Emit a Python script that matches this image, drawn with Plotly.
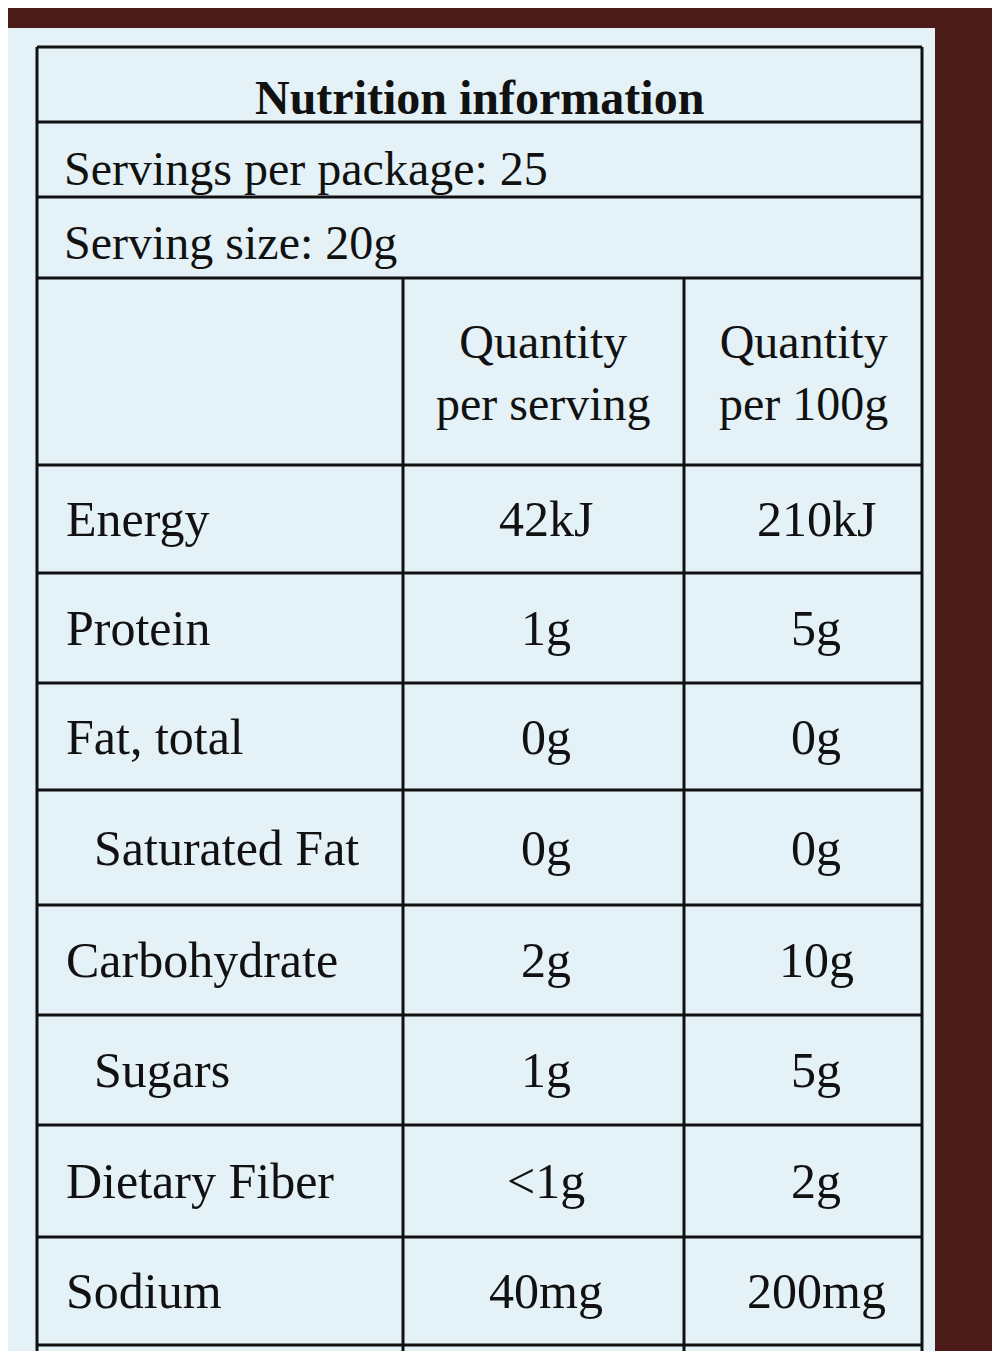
import plotly.graph_objects as go

title = "Nutrition information"
servings_line = "Servings per package: 25"
size_line = "Serving size: 20g"
col_heads = ["Quantity<br>per serving", "Quantity<br>per 100g"]
nutrients = ["Energy", "Protein", "Fat, total", "Saturated Fat", "Carbohydrate",
             "Sugars", "Dietary Fiber", "Sodium"]
indented = [False, False, False, True, False, True, False, False]
per_serving = ["42kJ", "1g", "0g", "0g", "2g", "1g", "<1g", "40mg"]
per_100g = ["210kJ", "5g", "0g", "0g", "10g", "5g", "2g", "200mg"]

# layout (pixels)
L, R = 37, 922
C1, C2 = 403, 684
row_y = [465, 573, 683, 790, 905, 1015, 1125, 1237, 1345]
ink = "#111111"
font = dict(family="Liberation Serif", color=ink)
brown = "#4b1c17"
bg = "#e4f1f6"

fig = go.Figure()
shapes = []
shapes.append(dict(type="rect", x0=-20, x1=1100, y0=-20, y1=1400, fillcolor=brown, line_width=0, layer="below"))
shapes.append(dict(type="rect", x0=8, x1=935, y0=28, y1=1400, fillcolor=bg, line_width=0, layer="below"))

def hline(y, x0=L, x1=R, w=3):
    shapes.append(dict(type="line", x0=x0, x1=x1, y0=y, y1=y, line=dict(color=ink, width=w)))

def vline(x, y0, y1, w=3):
    shapes.append(dict(type="line", x0=x, x1=x, y0=y0, y1=y1, line=dict(color=ink, width=w)))

for y in [47, 122, 197, 278] + row_y:
    hline(y)
vline(L, 47, 1400)
vline(R, 47, 1400)
vline(C1, 278, 1400)
vline(C2, 278, 1400)

ann = []
ann.append(dict(x=(L + R) / 2, y=97, text="<b>" + title + "</b>", font=dict(size=48, **font),
                xanchor="center", yanchor="middle"))
ann.append(dict(x=62, y=168, text=servings_line, font=dict(size=48, **font), xanchor="left", yanchor="middle"))
ann.append(dict(x=62, y=242, text=size_line, font=dict(size=48, **font), xanchor="left", yanchor="middle"))
for cx, t in zip([(C1 + C2) / 2, (C2 + R) / 2], col_heads):
    ann.append(dict(x=cx, y=372, text=t, font=dict(size=48, **font), xanchor="center", yanchor="middle"))

for i, n in enumerate(nutrients):
    yc = (row_y[i] + row_y[i + 1]) / 2
    ann.append(dict(x=92 if indented[i] else 64, y=yc, text=n, font=dict(size=50, **font),
                    xanchor="left", yanchor="middle"))
    ann.append(dict(x=546, y=yc, text=per_serving[i].replace("<", "&lt;"), font=dict(size=50, **font),
                    xanchor="center", yanchor="middle"))
    ann.append(dict(x=816, y=yc, text=per_100g[i], font=dict(size=50, **font),
                    xanchor="center", yanchor="middle"))
for a in ann:
    a.update(showarrow=False, xref="x", yref="y")

fig.update_layout(width=1000, height=1351, margin=dict(l=0, r=0, t=0, b=0),
                  paper_bgcolor=brown, plot_bgcolor=brown,
                  shapes=shapes, annotations=ann, showlegend=False,
                  xaxis=dict(range=[8, 1008], visible=False, fixedrange=True),
                  yaxis=dict(range=[1359, 8], visible=False, fixedrange=True))
fig.write_html("out.html")
